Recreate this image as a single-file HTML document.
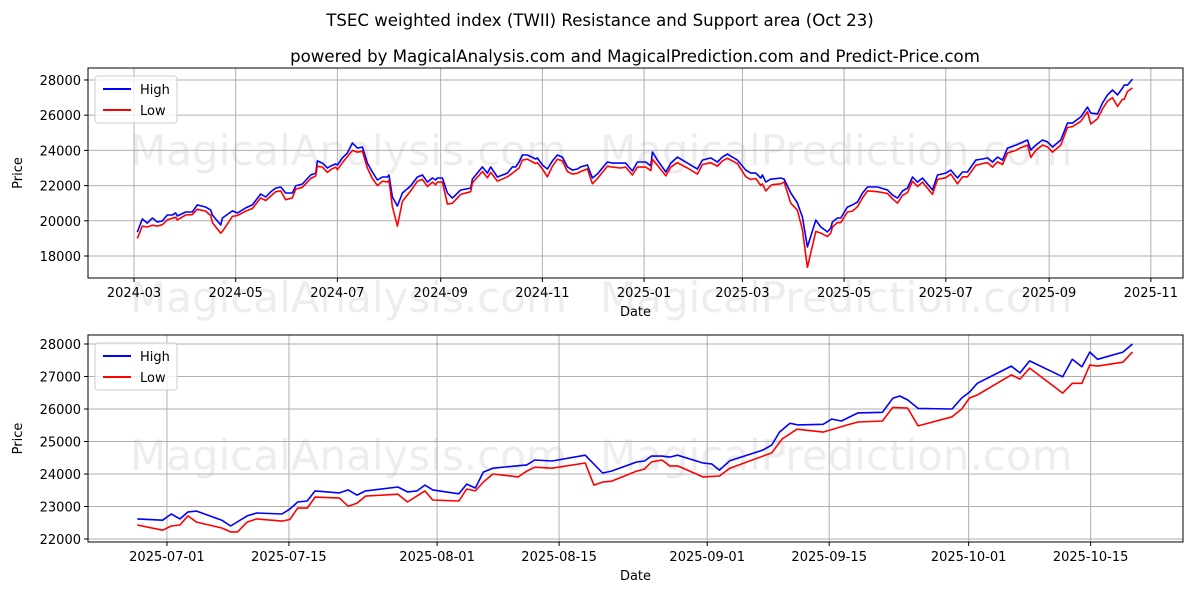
<!DOCTYPE html>
<html><head><meta charset="utf-8"><style>
html,body{margin:0;padding:0;background:#fff;}
svg{display:block;font-family:"DejaVu Sans","Liberation Sans",sans-serif;}
</style></head><body>
<svg id="chart" width="1200" height="600" viewBox="0 0 1200 600" xmlns="http://www.w3.org/2000/svg">
<rect width="1200" height="600" fill="#fff"/>
<text x="600" y="26" text-anchor="middle" font-size="16.6">TSEC weighted index (TWII) Resistance and Support area (Oct 23)</text>
<text x="635" y="62" text-anchor="middle" font-size="16.6">powered by MagicalAnalysis.com and MagicalPrediction.com and Predict-Price.com</text>
<g id="top"></g>
<g id="bot"></g>
</svg>
<script>
// Top panel: days since 2024-03-01
const topDays=[2,5,8,11,14,17,20,23,25,26,31,35,38,43,46,47,52,53,59,62,67,71,76,79,82,85,88,91,95,97,101,106,109,110,113,116,118,121,122,125,128,131,134,137,140,143,146,149,152,153,155,158,161,166,170,173,176,179,181,182,185,188,191,196,202,203,209,212,214,218,224,227,229,231,233,236,241,242,245,248,251,254,257,260,263,266,268,272,275,278,284,287,292,295,299,302,307,310,311,314,319,322,326,332,338,341,346,350,353,356,359,362,367,370,373,376,377,379,382,383,388,390,394,398,401,404,409,412,416,418,419,422,424,428,431,434,437,440,446,452,455,458,461,464,467,470,473,479,482,487,490,494,497,500,505,509,512,515,518,521,524,529,532,536,538,541,545,548,551,556,560,563,568,572,574,578,581,584,587,590,593,594,596,599];
const topHigh=[19360,20100,19870,20160,19930,19990,20330,20330,20440,20270,20500,20500,20900,20780,20610,20330,19760,20160,20560,20440,20730,20900,21520,21350,21640,21860,21920,21580,21580,21980,22090,22600,22710,23400,23280,23000,23110,23230,23170,23570,23850,24420,24130,24190,23280,22770,22320,22490,22490,22600,21350,20840,21580,21980,22490,22600,22200,22430,22320,22430,22430,21580,21290,21750,21860,22370,23060,22710,23060,22490,22710,23060,23060,23340,23740,23740,23510,23570,23170,22940,23400,23740,23620,23060,22880,22940,23060,23170,22430,22660,23340,23280,23280,23280,22830,23340,23340,23110,23910,23450,22770,23280,23620,23280,22940,23450,23570,23340,23620,23790,23620,23450,22880,22710,22710,22430,22600,22200,22370,22370,22430,22370,21580,21010,20220,18510,20040,19650,19370,19590,19930,20160,20160,20780,20900,21070,21580,21920,21920,21750,21460,21290,21690,21860,22490,22200,22430,21750,22600,22710,22880,22430,22770,22770,23450,23510,23570,23340,23620,23450,24130,24300,24420,24590,24020,24300,24590,24480,24190,24590,25550,25550,25900,26460,26120,26070,26690,27150,27430,27150,27540,27710,27710,28050];
const topLow=[19000,19700,19650,19750,19700,19780,20050,20150,20200,20050,20330,20350,20650,20550,20300,19900,19300,19400,20250,20300,20550,20700,21300,21150,21400,21650,21700,21200,21300,21800,21900,22400,22550,23100,23050,22750,22900,23050,22900,23300,23650,24000,23900,23950,23000,22400,22000,22250,22200,22300,20800,19700,21100,21700,22250,22350,21950,22200,22050,22200,22200,20950,21000,21500,21650,22150,22800,22450,22750,22250,22500,22700,22850,23000,23450,23500,23250,23300,22950,22500,23100,23500,23400,22800,22650,22700,22800,22950,22100,22400,23100,23050,23000,23050,22600,23050,23050,22850,23500,23150,22550,23050,23300,23000,22650,23200,23300,23100,23400,23550,23400,23250,22500,22350,22400,22000,22100,21700,22000,22050,22100,22200,21000,20600,19500,17350,19400,19300,19100,19300,19650,19900,19900,20500,20550,20800,21300,21700,21650,21550,21250,21000,21450,21600,22250,21950,22200,21500,22350,22450,22650,22100,22500,22500,23150,23250,23300,23050,23350,23200,23850,24000,24150,24300,23600,24000,24300,24200,23900,24300,25300,25350,25650,26200,25500,25800,26350,26800,27000,26500,26900,26900,27350,27550];
const topTickDays=[0,61,122,184,245,306,365,426,487,549,610];
const topTickLabels=["2024-03","2024-05","2024-07","2024-09","2024-11","2025-01","2025-03","2025-05","2025-07","2025-09","2025-11"];
const topYTicks=[18000,20000,22000,24000,26000,28000];
// Bottom panel: days since 2025-07-01
const botHighDays=[-3.4,-0.5,0.5,1.5,2.4,3.4,6.3,7.3,9.2,10.3,13.2,14.1,15.0,16.1,17.0,19.8,20.8,21.8,22.8,26.5,27.6,28.7,29.6,30.5,33.5,34.4,35.4,36.3,37.4,41.3,42.2,44.2,48.0,50.0,51.0,53.9,54.8,55.6,56.8,57.7,58.6,61.5,62.5,63.4,64.6,68.4,69.4,70.3,71.5,72.4,75.3,76.3,77.4,79.3,82.1,83.3,84.1,85.0,86.2,90.1,91.2,92.1,93.0,96.9,97.9,99.0,102.8,103.9,105.0,105.9,106.8,109.7,110.8];
const botHigh=[22620,22580,22770,22620,22830,22860,22580,22400,22710,22800,22770,22920,23140,23170,23480,23420,23510,23350,23480,23600,23450,23480,23660,23510,23390,23690,23570,24060,24180,24280,24430,24400,24580,24030,24090,24370,24400,24550,24550,24520,24580,24340,24310,24120,24410,24740,24890,25290,25560,25510,25530,25690,25630,25880,25900,26330,26400,26280,26020,26000,26340,26520,26790,27320,27110,27480,26990,27530,27300,27750,27530,27750,28000];
const botLowDays=[-3.4,-0.5,0.5,1.5,2.4,3.4,6.3,7.3,8.1,9.2,10.3,13.2,14.1,15.0,16.1,17.0,19.8,20.8,21.8,22.8,26.5,27.6,29.6,30.5,33.5,34.4,35.4,36.3,37.4,40.3,41.3,42.2,44.2,48.0,49.0,50.0,51.0,53.9,54.8,55.6,56.8,57.7,58.6,61.5,63.4,64.6,69.4,70.6,72.3,75.3,78.1,79.3,82.1,83.3,85.0,86.2,90.1,91.2,92.1,93.0,96.9,97.9,99.0,102.8,103.9,105.0,105.9,106.8,109.7,110.8];
const botLow=[22430,22270,22400,22430,22710,22520,22340,22220,22220,22520,22620,22550,22600,22950,22950,23290,23260,23010,23100,23320,23380,23140,23480,23200,23170,23540,23480,23750,24000,23910,24090,24210,24180,24340,23660,23750,23780,24090,24150,24370,24430,24250,24250,23910,23940,24180,24650,25080,25380,25290,25510,25600,25630,26050,26030,25480,25760,26000,26340,26430,27050,26920,27260,26490,26790,26790,27350,27320,27440,27750];
const botTickDays=[0,14,31,45,62,76,92,106];
const botTickLabels=["2025-07-01","2025-07-15","2025-08-01","2025-08-15","2025-09-01","2025-09-15","2025-10-01","2025-10-15"];
const botYTicks=[22000,23000,24000,25000,26000,27000,28000];

const NS="http://www.w3.org/2000/svg";
function mk(tag,attrs,parent,text){const e=document.createElementNS(NS,tag);for(const k in attrs)e.setAttribute(k,attrs[k]);if(text!==undefined)e.textContent=text;parent.appendChild(e);return e;}

function panel(g,box,xDom,yDom,xt,xl,yt,series,wm){
  const sx=d=>box.l+(d-xDom[0])/(xDom[1]-xDom[0])*(box.r-box.l);
  const sy=v=>box.b-(v-yDom[0])/(yDom[1]-yDom[0])*(box.b-box.t);
  wm.forEach(w=>{const t=mk('text',{x:w[0],y:w[1],'font-size':42,fill:'#d8d8d8','fill-opacity':'0.45'},g,w[2]);
    
    });
  xt.forEach((d,i)=>{const x=sx(d);
    const gl=mk('line',{x1:x,x2:x,y1:box.t,y2:box.b,stroke:'#b0b0b0','stroke-width':1},g);
    
    
    const tk=mk('line',{x1:x,x2:x,y1:box.b,y2:box.b+4,stroke:'#000'},g);
    
    
    const lb=mk('text',{x:x,y:box.b+19,'text-anchor':'middle','font-size':13},g,xl[i]);
    
    });
  yt.forEach(v=>{const y=sy(v);
    const gl=mk('line',{x1:box.l,x2:box.r,y1:y,y2:y,stroke:'#b0b0b0','stroke-width':1},g);
    
    
    const tk=mk('line',{x1:box.l-4,x2:box.l,y1:y,y2:y,stroke:'#000'},g);
    
    
    const lb=mk('text',{x:box.l-7,y:y+5,'text-anchor':'end','font-size':13},g,String(v));
    
    });
  series.forEach(s=>{
    const pts=s.d.map((d,i)=>sx(d).toFixed(1)+','+sy(s.v[i]).toFixed(1)).join(' ');
    const p=mk('polyline',{points:pts,fill:'none',stroke:s.c,'stroke-width':1.6,'stroke-linejoin':'round'},g);
    
    
  });
  const fr=mk('rect',{x:box.l,y:box.t,width:box.r-box.l,height:box.b-box.t,fill:'none',stroke:'#000','stroke-width':1},g);
  
  
  const xa=mk('text',{x:(box.l+box.r)/2,y:box.b+38,'text-anchor':'middle','font-size':13},g,'Date');
  
  
  const cy=(box.t+box.b)/2, ax=box.l-66;
  const ya=mk('text',{x:ax,y:cy,'text-anchor':'middle','font-size':13,transform:'rotate(-90 '+ax+' '+cy+')'},g,'Price');
  
  
  const lg=mk('g',{},g);
  
  
  const lx=box.l+7, ly=box.t+8;
  mk('rect',{x:lx,y:ly,width:82,height:47,rx:3,fill:'#fff','fill-opacity':0.8,stroke:'#ccc'},lg);
  [['High','#0000ff','legend-entry-high'],['Low','#ff0000','legend-entry-low']].forEach((e,i)=>{
    const ee=mk('g',{},lg);
    
    
    mk('line',{x1:lx+8,x2:lx+36,y1:ly+13+i*21,y2:ly+13+i*21,stroke:e[1],'stroke-width':2},ee);
    mk('text',{x:lx+45,y:ly+18+i*21,'font-size':13},ee,e[0]);
  });
}
panel(document.getElementById('top'),{l:88,r:1183,t:68,b:278},[-27.6,629.3],[16750,28680],topTickDays,topTickLabels,topYTicks,
  [{d:topDays,v:topHigh,c:'#0000ff',n:'high-line-full'},{d:topDays,v:topLow,c:'#ff0000',n:'low-line-full'}],
  [[130,165,'MagicalAnalysis.com'],[600,165,'MagicalPrediction.com'],[130,312,'MagicalAnalysis.com'],[600,312,'MagicalPrediction.com']]);
panel(document.getElementById('bot'),{l:88,r:1183,t:335,b:542},[-9.06,116.6],[21908,28277],botTickDays,botTickLabels,botYTicks,
  [{d:botHighDays,v:botHigh,c:'#0000ff',n:'high-line-recent'},{d:botLowDays,v:botLow,c:'#ff0000',n:'low-line-recent'}],
  [[130,470,'MagicalAnalysis.com'],[600,470,'MagicalPrediction.com']]);
</script>
</body></html>
